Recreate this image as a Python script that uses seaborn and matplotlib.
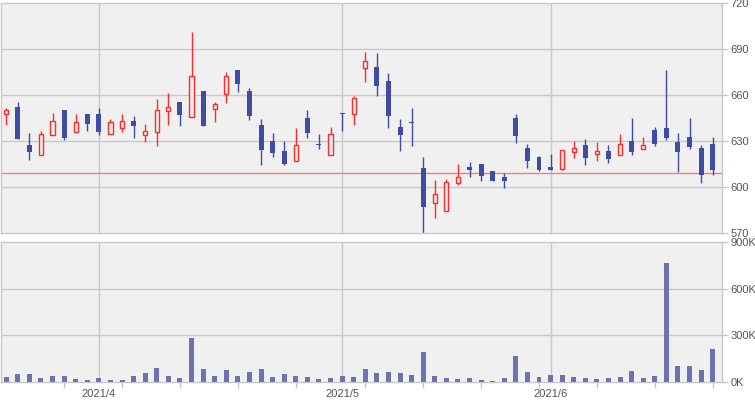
import numpy as np
import pandas as pd
import matplotlib
matplotlib.use("Agg")
import matplotlib.pyplot as plt
import seaborn as sns

# trading days 2021/3/22 - 2021/6/21 (TSE holidays removed)
holidays = ["2021-04-29", "2021-05-03", "2021-05-04", "2021-05-05"]
dates = pd.bdate_range("2021-03-22", "2021-06-21", freq="C", holidays=holidays)

opens = [647.4, 652.2, 627.4, 620.7, 633.7, 650.2, 635.7, 647.6, 647.6, 634.3,
         638.3, 643.0, 633.7, 635.7, 649.3, 655.4, 645.4, 662.6, 650.7, 660.4,
         676.3, 662.6, 640.4, 630.0, 623.5, 616.7, 645.0, 627.8, 620.7, 648.0,
         647.4, 677.4, 678.3, 669.1, 639.1, 642.2, 612.4, 589.3, 584.1, 602.4,
         613.0, 615.0, 610.4, 606.5, 645.0, 625.4, 619.6, 613.0, 611.5, 622.6,
         627.4, 621.3, 623.5, 620.7, 630.0, 625.0, 637.2, 638.5, 629.3, 632.6,
         625.4, 628.0]
closes = [650.0, 631.5, 623.0, 634.3, 642.8, 632.2, 642.2, 641.3, 636.1, 642.2,
          642.8, 640.0, 636.3, 650.0, 652.0, 647.2, 672.2, 640.0, 653.9, 672.2,
          667.4, 646.5, 624.3, 622.4, 615.2, 627.2, 635.4, 627.5, 634.3, 647.7,
          657.8, 682.0, 666.1, 646.5, 634.1, 641.9, 587.2, 595.2, 603.0, 606.3,
          611.3, 607.4, 604.1, 604.1, 633.5, 617.2, 611.1, 611.1, 623.9, 625.2,
          619.1, 623.3, 618.5, 627.8, 623.0, 627.2, 628.3, 632.2, 623.0, 626.3,
          608.0, 611.1]
highs = [651.5, 655.4, 635.2, 636.5, 648.3, 650.2, 647.6, 647.6, 651.5, 644.3,
         647.6, 646.3, 641.1, 657.4, 661.3, 655.4, 701.1, 662.6, 655.4, 675.0,
         676.3, 664.6, 644.3, 635.2, 630.0, 638.5, 650.2, 634.6, 639.1, 648.0,
         659.1, 688.0, 687.4, 674.3, 644.3, 651.5, 619.6, 604.6, 605.0, 615.0,
         616.3, 615.0, 610.4, 609.1, 647.6, 628.0, 620.4, 621.5, 623.9, 629.8,
         631.3, 629.3, 627.4, 634.6, 645.0, 632.6, 639.1, 676.3, 635.2, 645.0,
         627.4, 632.6]
lows = [640.7, 631.5, 617.8, 620.7, 633.7, 630.9, 635.7, 636.7, 634.1, 634.3,
        636.1, 632.2, 629.6, 627.0, 640.7, 640.0, 645.4, 640.0, 642.6, 655.0,
        662.2, 643.9, 614.6, 619.8, 614.6, 616.7, 632.2, 625.0, 620.7, 636.7,
        640.7, 668.7, 659.3, 638.7, 623.7, 627.0, 568.0, 580.0, 584.1, 601.1,
        606.3, 604.1, 604.1, 599.6, 628.9, 612.6, 610.7, 611.1, 610.9, 619.1,
        614.6, 617.2, 615.9, 620.7, 621.1, 625.0, 627.0, 630.9, 609.8, 625.0,
        602.8, 608.0]
# volume, thousands of shares
volume_k = [32, 51, 51, 26, 39, 39, 19, 13, 26, 13,
            13, 39, 58, 90, 39, 26, 283, 84, 39, 77,
            39, 64, 84, 32, 51, 39, 32, 19, 26, 39,
            32, 84, 58, 64, 58, 45, 193, 39, 26, 19,
            26, 13, 6, 26, 167, 64, 32, 45, 45, 32,
            26, 19, 26, 32, 71, 26, 39, 765, 103, 103,
            77, 212]
ref_price = 609

price_ticks = [570, 600, 630, 660, 690, 720]
volume_ticks_k = [0, 300, 600, 900]

UP = "#ff2b2b"
DOWN = "#3f4ca3"
VOL = "#6b74b0"
BG = "#f0f0f0"
GRID = "#c8c8c8"
TXT = "#555555"

sns.set_theme(style="white")
plt.rcParams["font.family"] = ["Liberation Sans", "DejaVu Sans"]

df = pd.DataFrame({"date": dates, "open": opens, "close": closes,
                   "high": highs, "low": lows, "volume": np.array(volume_k) * 1000})
df["i"] = np.arange(len(df))
n = len(df)

fig = plt.figure(figsize=(7.55, 4.0), dpi=100)
ax_p = fig.add_axes([1 / 755, 1 - 233 / 400, 721 / 755, 230 / 400])
ax_v = fig.add_axes([1 / 755, 1 - 382 / 400, 721 / 755, 140 / 400])

month_idx = [i for i in range(1, n) if df.date[i].month != df.date[i - 1].month]
week_idx = [i for i in range(1, n) if df.date[i].weekday() == 0]
xlim = (-0.45, 61.8)

for ax in (ax_p, ax_v):
    ax.set_facecolor(BG)
    for s in ax.spines.values():
        s.set_color(GRID)
        s.set_linewidth(1)
    for m in month_idx:
        ax.axvline(m, color=GRID, lw=1, zorder=0.5)
    ax.yaxis.tick_right()
    ax.tick_params(axis="y", which="major", direction="out", length=4.5,
                   width=1, color=GRID, labelsize=8, labelcolor=TXT, pad=1.5)
    ax.set_xlim(*xlim)

# price panel
for t in price_ticks[1:-1]:
    ax_p.axhline(t, color=GRID, lw=1, zorder=0.5)
ax_p.axhline(ref_price, color="#f08080", lw=1, zorder=0.6)

up = df[df.close >= df.open]
down = df[df.close < df.open]
ax_p.vlines(up.i, up.low, up.high, color=UP, lw=1, zorder=2)
ax_p.vlines(down.i, down.low, down.high, color=DOWN, lw=1, zorder=2)
ax_p.bar(up.i, (up.close - up.open).clip(lower=0.6), bottom=up.open, width=0.36,
         facecolor=BG, edgecolor=UP, linewidth=1, zorder=3)
ax_p.bar(down.i, (down.open - down.close).clip(lower=0.6), bottom=down.close,
         width=0.43, color=DOWN, linewidth=0, zorder=3)
ax_p.set_ylim(price_ticks[0], price_ticks[-1])
ax_p.set_yticks(price_ticks)
ax_p.set_yticklabels([str(t) for t in price_ticks])
ax_p.set_xticks([])

# volume panel
sns.barplot(data=df, x="i", y="volume", ax=ax_v, color=VOL, saturation=1,
            width=0.43, native_scale=True, linewidth=0, zorder=3)
for t in volume_ticks_k[1:-1]:
    ax_v.axhline(t * 1000, color=GRID, lw=1, zorder=0.5)
ax_v.set_ylim(0, volume_ticks_k[-1] * 1000)
ax_v.set_yticks([t * 1000 for t in volume_ticks_k])
ax_v.set_yticklabels([f"{t}K" for t in volume_ticks_k])
ax_v.set_xlim(*xlim)
ax_v.set_xticks(month_idx)
ax_v.set_xticklabels([f"{df.date[m].year}/{df.date[m].month}" for m in month_idx])
ax_v.set_xticks(week_idx, minor=True)
ax_v.tick_params(axis="x", which="major", length=0, labelsize=8, labelcolor=TXT, pad=5)
ax_v.tick_params(axis="x", which="minor", direction="out", length=4, width=1,
                 color=GRID, bottom=True)
ax_v.set_xlabel("")
ax_v.set_ylabel("")

fig.savefig("out.png", dpi=100)
